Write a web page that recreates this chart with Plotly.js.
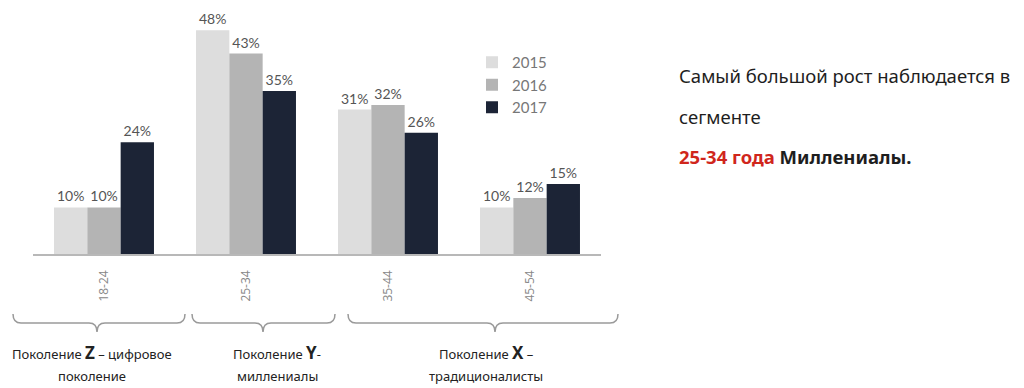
<!DOCTYPE html>
<html>
<head>
<meta charset="utf-8">
<script src="https://cdn.plot.ly/plotly-3.0.1.min.js"></script>
<style>html,body{margin:0;padding:0;background:#fff;}#chart{width:1024px;height:388px;}</style>
</head>
<body>
<div id="chart"></div>
<script>
const categories = ["18-24", "25-34", "35-44", "45-54"];
const years = ["2015", "2016", "2017"];
const values2015 = [10, 48, 31, 10];
const values2016 = [10, 43, 32, 12];
const values2017 = [24, 35, 26, 15];
const colors = ["#dddddd", "#b4b4b4", "#1c2436"];

const W = 1024, H = 388;
const M = {l: 33, r: 423, t: 21, b: 134};
const PW = W - M.l - M.r, PH = H - M.t - M.b;
const px = x => (x - M.l) / PW;
const py = y => (H - M.b - y) / PH;

const series = [values2015, values2016, values2017];
const traces = series.map((vals, i) => ({
  type: "bar",
  name: years[i],
  x: categories,
  y: vals,
  marker: {color: colors[i], line: {width: 0}},
  text: vals.map(v => v + "%"),
  textposition: "outside",
  cliponaxis: false,
  textfont: {family: "Lato", size: 14, color: "#555"},
  hoverinfo: "none"
}));

function brace(x0, x1, tip, top, mid, bot) {
  const r = 8;
  const X0 = px(x0), X1 = px(x1), T = px(tip);
  const yt = py(top), ym = py(mid), yb = py(bot);
  const xr = r / PW;
  return "M" + X0 + "," + yt +
    " Q" + X0 + "," + ym + " " + (X0 + xr) + "," + ym +
    " L" + (T - xr) + "," + ym +
    " Q" + T + "," + ym + " " + T + "," + yb +
    " Q" + T + "," + ym + " " + (T + xr) + "," + ym +
    " L" + (X1 - xr) + "," + ym +
    " Q" + X1 + "," + ym + " " + X1 + "," + yt;
}
const braceDefs = [[13, 185, 97], [192, 335, 263], [348, 618, 495]];
const shapes = braceDefs.map(b => ({
  type: "path", xref: "paper", yref: "paper",
  path: brace(b[0], b[1], b[2], 314, 323, 332),
  line: {color: "#9a9a9a", width: 1.5}
}));

const genFont = {family: "Noto Sans", size: 13, color: "#222"};
const big = s => "<b><span style='font-size:17px'>" + s + "</span></b>";
const genLines = [
  [92, "Поколение " + big("Z") + " – цифровое", "поколение"],
  [277, "Поколение " + big("Y") + "-", "миллениалы"],
  [486, "Поколение " + big("X") + " –", "традиционалисты"]
];
const annotations = [];
genLines.forEach(g => {
  annotations.push({x: px(g[0]), y: py(365), text: g[1], yanchor: "bottom"});
  annotations.push({x: px(g[0]), y: py(366), text: g[2], yanchor: "top"});
});
annotations.forEach(a => Object.assign(a, {xref: "paper", yref: "paper", showarrow: false, font: genFont, align: "center", xanchor: "center", borderpad: 0}));

const rightFont = {family: "Noto Sans", size: 18.5, color: "#1e1e1e"};
const rightLines = [
  [75, "Самый большой рост наблюдается в"],
  [116, "сегменте"],
  [156, "<b><span style='color:#d0261c'>25-34 года</span> Миллениалы.</b>"]
];
rightLines.forEach(r => annotations.push({
  x: px(677), y: py(r[0]), text: r[1], xref: "paper", yref: "paper", showarrow: false,
  font: rightFont, xanchor: "left", yanchor: "middle", align: "left"
}));

const layout = {
  width: W, height: H,
  margin: M,
  paper_bgcolor: "#fff", plot_bgcolor: "#fff",
  barmode: "group", bargap: 0.296, bargroupgap: 0,
  showlegend: true,
  legend: {x: px(472), y: py(46), xanchor: "left", yanchor: "top",
    font: {family: "Lato", size: 15, color: "#777"}, bgcolor: "rgba(0,0,0,0)", tracegroupgap: 0},
  xaxis: {type: "category", range: [-0.5, 3.5], automargin: false,
    showline: true, linecolor: "#b8b8b8", linewidth: 1.5, showgrid: false, zeroline: false,
    tickangle: -90, ticks: "outside", ticklen: 10, tickcolor: "rgba(0,0,0,0)",
    tickfont: {family: "Open Sans", size: 12, color: "#888"}},
  yaxis: {range: [0, 50], showgrid: false, zeroline: false, showline: false,
    showticklabels: false, automargin: false},
  shapes: shapes,
  annotations: annotations
};

Plotly.newPlot("chart", traces, layout, {displayModeBar: false, staticPlot: true});
</script>
</body>
</html>
